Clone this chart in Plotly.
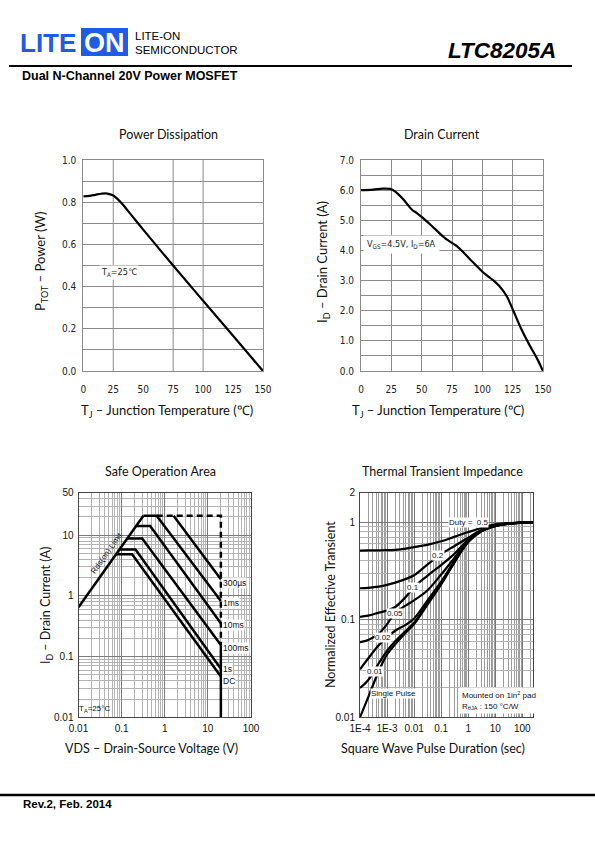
import math
import plotly.graph_objects as go

# ---------------- data ----------------
pd_temp_c = [0, 5, 10, 15, 20, 25, 28, 32, 40, 50, 75, 100, 125, 150]
pd_power_w = [0.828, 0.830, 0.835, 0.840, 0.841, 0.832, 0.818, 0.795, 0.74, 0.67, 0.50, 0.333, 0.167, 0.0]

id_temp_c = [0, 10, 18, 24, 28, 35, 42, 46, 51, 60, 70, 79, 90, 101, 109, 114, 120, 125, 132, 139, 144.5, 150]
id_current_a = [6.0, 6.02, 6.05, 6.04, 5.96, 5.69, 5.35, 5.24, 5.08, 4.75, 4.38, 4.14, 3.70, 3.26, 3.01, 2.82,
                2.49, 2.05, 1.40, 0.85, 0.46, 0.0]

soa_rds_v = [0.01, 0.32]
soa_rds_i = [0.65, 20.8]
soa_300us_v = [1.6, 20]
soa_300us_i = [20.8, 1.87]
soa_1ms_v = [0.32, 0.65, 20]
soa_1ms_i = [20.8, 20.8, 0.82]
soa_10ms_v = [0.217, 0.46, 20]
soa_10ms_i = [14.1, 14.1, 0.355]
soa_100ms_v = [0.135, 0.30, 20]
soa_100ms_i = [8.8, 8.8, 0.155]
soa_1s_v = [0.089, 0.21, 20]
soa_1s_i = [5.8, 5.8, 0.063]
soa_dc_v = [0.075, 0.175, 20]
soa_dc_i = [4.85, 4.85, 0.047]
soa_limit_v = [0.65, 20, 20]
soa_limit_i = [20.8, 20.8, 0.155]
soa_bvdss_v = [20, 20]
soa_bvdss_i = [0.155, 0.01]
soa_labels = ["300µs", "1ms", "10ms", "100ms", "1s", "DC"]
soa_label_i = [1.65, 0.76, 0.33, 0.137, 0.062, 0.039]

zth_t = [1e-4, 2e-4, 5e-4, 1e-3, 2e-3, 5e-3, 0.01, 0.03, 0.1, 0.3, 1, 3, 10, 30, 100, 250]
zth_single = [0.0100, 0.0160, 0.030, 0.044, 0.056, 0.074, 0.090, 0.140, 0.230, 0.380, 0.625, 0.80, 0.91, 0.96, 0.985, 1.0]
zth_d001 = [0.020, 0.024, 0.036, 0.048, 0.060, 0.077, 0.093, 0.145, 0.235, 0.385, 0.630, 0.805, 0.912, 0.961, 0.986, 1.0]
zth_d002 = [0.031, 0.040, 0.055, 0.066, 0.077, 0.089, 0.103, 0.155, 0.245, 0.395, 0.637, 0.81, 0.915, 0.962, 0.987, 1.0]
zth_d005 = [0.059, 0.062, 0.072, 0.090, 0.118, 0.140, 0.158, 0.198, 0.290, 0.425, 0.648, 0.815, 0.918, 0.964, 0.988, 1.0]
zth_d01 = [0.107, 0.110, 0.118, 0.124, 0.135, 0.172, 0.216, 0.280, 0.363, 0.470, 0.660, 0.82, 0.92, 0.965, 0.988, 1.0]
zth_d02 = [0.210, 0.212, 0.218, 0.227, 0.240, 0.262, 0.285, 0.365, 0.470, 0.566, 0.690, 0.83, 0.925, 0.967, 0.989, 1.0]
zth_d05 = [0.511, 0.512, 0.513, 0.515, 0.520, 0.535, 0.553, 0.585, 0.636, 0.705, 0.790, 0.87, 0.95, 0.975, 0.99, 1.0]

# ---------------- helpers ----------------
W, H = 595, 842


def px(x):
    return x / W


def py(y):
    return 1 - y / H


TITLE_FONT = "Lato, 'Open Sans', sans-serif"
NARROW = "'Liberation Sans Narrow', 'DejaVu Sans Condensed', Arial, sans-serif"
ARIAL = "'Liberation Sans', Arial, sans-serif"
BLUE = "#1e5be6"
GRID = "#8a8a8a"
TRANSP = "rgba(0,0,0,0)"

fig = go.Figure()


def line(x, y, xa, ya, width=2.2, dash="solid", shape="linear"):
    fig.add_trace(go.Scatter(x=x, y=y, mode="lines", xaxis=xa, yaxis=ya, hoverinfo="skip",
                             line=dict(color="black", width=width, dash=dash, shape=shape)))


line(pd_temp_c, pd_power_w, "x", "y", shape="spline")
line(id_temp_c, id_current_a, "x2", "y2", shape="spline")

for v, i in [(soa_rds_v, soa_rds_i), (soa_300us_v, soa_300us_i), (soa_1ms_v, soa_1ms_i),
             (soa_10ms_v, soa_10ms_i), (soa_100ms_v, soa_100ms_i), (soa_1s_v, soa_1s_i),
             (soa_dc_v, soa_dc_i), (soa_bvdss_v, soa_bvdss_i)]:
    line(v, i, "x3", "y3", width=2.5)
line(soa_limit_v, soa_limit_i, "x3", "y3", width=2.5, dash="6px,4px")

for z in [zth_single, zth_d001, zth_d002, zth_d005, zth_d01, zth_d02, zth_d05]:
    line(zth_t, z, "x4", "y4", width=2.2, shape="spline")

# ---------------- axes ----------------
lin_tick = dict(family=NARROW, size=10, color="#222")
arial_tick = dict(family=ARIAL, size=10, color="#111")


def lin_axis(domain, rng, tickvals, ticktext, anchor, grid=True, ticklen=4):
    return dict(domain=domain, range=rng, tickvals=tickvals, ticktext=ticktext, showgrid=grid,
                gridcolor=GRID, gridwidth=1, zeroline=False, showline=True, linecolor=GRID,
                linewidth=1, mirror=True, ticks="outside", ticklen=ticklen, tickcolor=TRANSP,
                tickfont=lin_tick, anchor=anchor, fixedrange=True, automargin=False)


def minor_vals(e0, e1, extra=()):
    vals = [k * 10 ** e for e in range(e0, e1) for k in range(2, 10)]
    return vals + list(extra)


def log_axis(domain, rng, tickvals, ticktext, anchor, minor, minor_color="#b3b3b3"):
    return dict(type="log", domain=domain, range=rng, tickvals=tickvals, ticktext=ticktext,
                showgrid=True, gridcolor="#7a7a7a", gridwidth=1, zeroline=False, showline=True,
                linecolor="#444", linewidth=1, mirror=True, ticks="outside", ticklen=2,
                tickcolor=TRANSP, tickfont=arial_tick, anchor=anchor, fixedrange=True,
                automargin=False,
                minor=dict(tickvals=minor, showgrid=True, gridcolor=minor_color, gridwidth=0.9,
                           ticks=""))


x1_ticks = [0, 25, 50, 75, 100, 125, 150]
y1_ticks = [round(0.1 * k, 1) for k in range(11)]
y1_text = [f"{v:.1f}" if k % 2 == 0 else "" for k, v in enumerate(y1_ticks)]
y2_ticks = [0.5 * k for k in range(15)]
y2_text = [f"{v:.1f}" if k % 2 == 0 else "" for k, v in enumerate(y2_ticks)]

fig.update_layout(
    xaxis=lin_axis([px(83.3), px(263)], [0, 150], x1_ticks, [str(v) for v in x1_ticks], "y",
                   grid=False, ticklen=9),
    yaxis=lin_axis([py(371), py(160)], [0, 1], y1_ticks, y1_text, "x", ticklen=4),
    xaxis2=lin_axis([px(361), px(543)], [0, 150], x1_ticks, [str(v) for v in x1_ticks], "y2",
                    ticklen=9),
    yaxis2=lin_axis([py(371), py(160)], [0, 7], y2_ticks, y2_text, "x2", ticklen=4),
    xaxis3=log_axis([px(78.5), px(251)], [-2, 2], [0.01, 0.1, 1, 10, 100],
                    ["0.01", "0.1", "1", "10", "100"], "y3", minor_vals(-2, 2)),
    yaxis3=log_axis([py(717.3), py(492.7)], [-2, math.log10(50)], [0.01, 0.1, 1, 10, 50],
                    ["0.01", "0.1", "1", "10", "50"], "x3", minor_vals(-2, 1, (20, 30, 40))),
    xaxis4=log_axis([px(360), px(533.3)], [-4, 2.405], [1e-4, 1e-3, 0.01, 0.1, 1, 10, 100],
                    ["1E-4", "1E-3", "0.01", "0.1", "1", "10", "100"], "y4",
                    minor_vals(-4, 2, (200,)), minor_color="#9c9c9c"),
    yaxis4=log_axis([py(717.3), py(492.7)], [-2, math.log10(2)], [0.01, 0.1, 1, 2],
                    ["0.01", "0.1", "1", "2"], "x4", minor_vals(-2, 0)),
)

# ---------------- shapes ----------------
shapes = []
for v in [25, 75, 100]:
    shapes.append(dict(type="line", xref="x", yref="y domain", x0=v, x1=v, y0=0, y1=1,
                       line=dict(color=GRID, width=1), layer="below"))
shapes.append(dict(type="rect", xref="paper", yref="paper", x0=px(81), x1=px(128), y0=py(56),
                   y1=py(28), fillcolor=BLUE, line=dict(width=0)))
shapes.append(dict(type="line", xref="paper", yref="paper", x0=px(9), x1=px(572), y0=py(66),
                   y1=py(66), line=dict(color="black", width=2)))
shapes.append(dict(type="line", xref="paper", yref="paper", x0=0, x1=1, y0=py(795), y1=py(795),
                   line=dict(color="black", width=2.5)))

# ---------------- annotations ----------------
ann = []


def ptext(text, x, y, size, family=TITLE_FONT, color="#111", xanchor="center", angle=0, **kw):
    ann.append(dict(text=text, x=px(x), y=py(y), xref="paper", yref="paper", showarrow=False,
                    xanchor=xanchor, yanchor="middle", textangle=angle, align="left",
                    font=dict(family=family, size=size, color=color), **kw))


# header
ptext("<b>LITE</b>", 78, 42.5, 26, family=ARIAL, color=BLUE, xanchor="right")
ptext("<b>ON</b>", 104.5, 42.5, 27, family=ARIAL, color="white")
ptext("LITE-ON", 133, 36, 11.5, family=ARIAL, color="black", xanchor="left")
ptext("SEMICONDUCTOR", 133, 50, 11.5, family=ARIAL, color="black", xanchor="left")
ptext("<b><i>LTC8205A</i></b>", 446, 51, 22.5, family=ARIAL, color="black", xanchor="left")
ptext("<b>Dual N-Channel 20V Power MOSFET</b>", 20, 76, 12.5, family=ARIAL, color="black",
      xanchor="left")
ptext("<b>Rev.2, Feb. 2014</b>", 21, 804, 11.5, family=ARIAL, color="black", xanchor="left")

# chart titles
ptext("Power Dissipation", 168, 135, 12.5)
ptext("Drain Current", 442, 135, 12.5)
ptext("Safe Operation Area", 160, 471.5, 12.5)
ptext("Thermal Transient Impedance", 442, 471.5, 12.5)

# axis titles
ptext("P<sub>TOT</sub> – Power (W)", 41, 262, 13, angle=-90)
ptext("T<sub>J</sub> – Junction Temperature (℃)", 167, 411, 13)
ptext("I<sub>D</sub> – Drain Current (A)", 323, 262, 13, angle=-90)
ptext("T<sub>J</sub> – Junction Temperature (℃)", 438, 411, 13)
ptext("I<sub>D</sub> – Drain Current (A)", 46, 606, 12.5, angle=-90)
ptext("VDS – Drain-Source Voltage (V)", 151, 748, 12.5)
ptext("Normalized Effective Transient", 330, 605, 12.5, angle=-90)
ptext("Square Wave Pulse Duration (sec)", 433, 748, 12.5)

# in-plot notes
ann.append(dict(text="T<sub>A</sub>=25℃", x=30, y=0.467, xref="x", yref="y", showarrow=False,
                bgcolor="white", font=dict(family=NARROW, size=9, color="#222")))
ann.append(dict(text="V<sub>GS</sub>=4.5V, I<sub>D</sub>=6A", x=1.5, y=4.18, xref="x2", yref="y2",
                xanchor="left", showarrow=False, bgcolor="white", borderpad=3,
                font=dict(family=NARROW, size=9, color="#222")))

for lab, iv in zip(soa_labels, soa_label_i):
    ann.append(dict(text=lab, x=math.log10(20), y=math.log10(iv), xref="x3", yref="y3",
                    xanchor="left", xshift=1, showarrow=False, bgcolor="white", borderpad=0,
                    font=dict(family=ARIAL, size=8.5, color="#111")))
ann.append(dict(text="Rds(on) Limit", x=-1.2, y=0.614, xref="x3", yref="y3", showarrow=False,
                xshift=-6.5, yshift=5, textangle=-54.6,
                font=dict(family=ARIAL, size=8, color="#111")))
ann.append(dict(text="T<sub>A</sub>=25°C", x=-1.62, y=-1.87, xref="x3", yref="y3",
                showarrow=False, font=dict(family=ARIAL, size=8, color="#111")))

zth_labels = [("Duty =  0.5", 0.0, 0.0), ("0.2", -1.117, -0.339), ("0.1", -2.04, -0.674),
              ("0.05", -2.707, -0.939), ("0.02", -3.15, -1.183), ("0.01", -3.446, -1.529),
              ("Single Pulse", -2.78, -1.753)]
for lab, lx, ly in zth_labels:
    ann.append(dict(text=lab, x=lx, y=ly, xref="x4", yref="y4", showarrow=False,
                    bgcolor="white", borderpad=0, font=dict(family=ARIAL, size=8, color="#111")))
ann.append(dict(text="Mounted on 1in<sup>2</sup> pad<br>R<sub>θJA</sub> : 150 °C/W",
                x=px(459), y=py(700), xref="paper", yref="paper", xanchor="left",
                yanchor="middle", align="left", showarrow=False, bgcolor="white", borderpad=2,
                font=dict(family=ARIAL, size=8, color="#111")))

fig.update_layout(
    width=W, height=H, margin=dict(l=0, r=0, t=0, b=0, pad=0, autoexpand=False),
    paper_bgcolor="white", plot_bgcolor="white", showlegend=False, shapes=shapes,
    annotations=ann,
)

fig.write_html(
    "out.html",
    config={"displayModeBar": False},
    post_script=("document.body.style.margin='0';document.body.style.overflow='hidden';"
                 "document.documentElement.style.overflow='hidden';"),
)
